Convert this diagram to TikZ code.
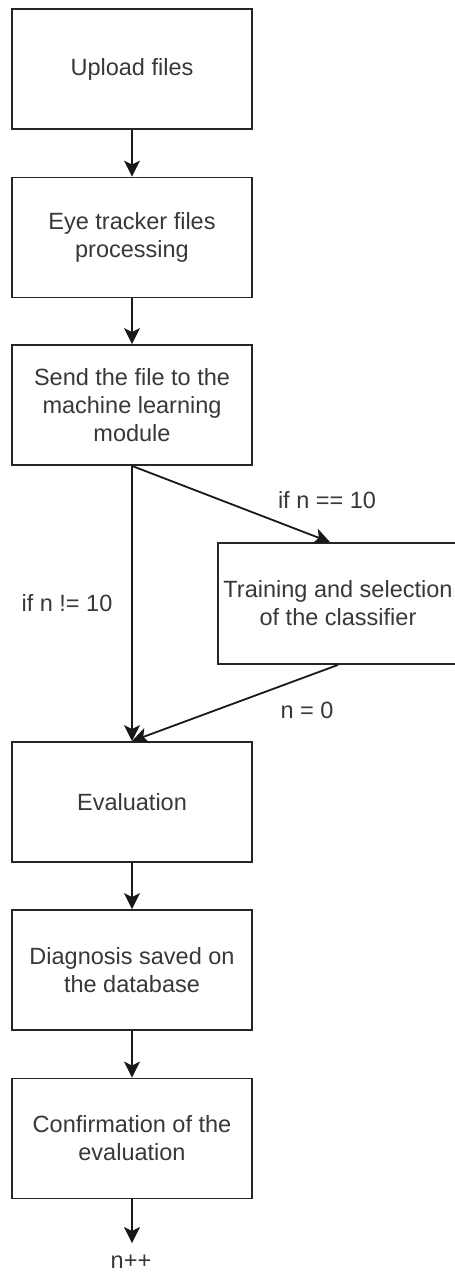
\documentclass[tikz,border=0pt]{standalone}
\usepackage{fontspec}
\setmainfont{Liberation Sans}
\usetikzlibrary{arrows.meta}
\begin{document}
\begin{tikzpicture}[x=1pt,y=-1pt,
  box/.style={draw=black!85, line width=1.8pt, minimum width=240pt, minimum height=120pt, inner sep=0pt, align=center, text=black!78, font=\fontsize{23.5}{28}\selectfont},
  arr/.style={draw=black!90, line width=1.8pt, -{Stealth[length=16pt,width=16pt,inset=4pt]}},
  lbl/.style={text=black!78, font=\fontsize{23.5}{28}\selectfont, inner sep=0pt, anchor=base}]
\fill[white] (0,0) rectangle (455,1274);
\useasboundingbox (0,0) rectangle (455,1274);
\node[box] (b1) at (132,69) {Upload files};
\node[box] (b2) at (132,237.5) {Eye tracker files\\processing};
\node[box] (b3) at (132,405) {Send the file to the\\machine learning\\module};
\node[box, minimum height=121pt] (b4) at (338,603.5) {Training and selection\\of the classifier};
\node[box] (b5) at (132,802) {Evaluation};
\node[box] (b6) at (132,970) {Diagnosis saved on\\the database};
\node[box] (b7) at (132,1138.5) {Confirmation of the\\evaluation};
\coordinate (end) at (132,1243);
\draw[arr] (b1) -- (b2);
\draw[arr] (b2) -- (b3);
\draw[arr] (b3.south) -- ([xshift=-8pt]b4.north);
\draw[arr] (b3.south) -- (b5.north);
\draw[arr] (b4.south) -- (b5.north);
\draw[arr] (b5) -- (b6);
\draw[arr] (b6) -- (b7);
\draw[arr] (b7.south) -- (end);
\node[lbl] (l1) at (327,508) {if n == 10};
\node[lbl] (l2) at (67,611) {if n != 10};
\node[lbl] (l3) at (307,718) {n = 0};
\node[lbl] (l4) at (131,1268) {n++};
\end{tikzpicture}
\end{document}
